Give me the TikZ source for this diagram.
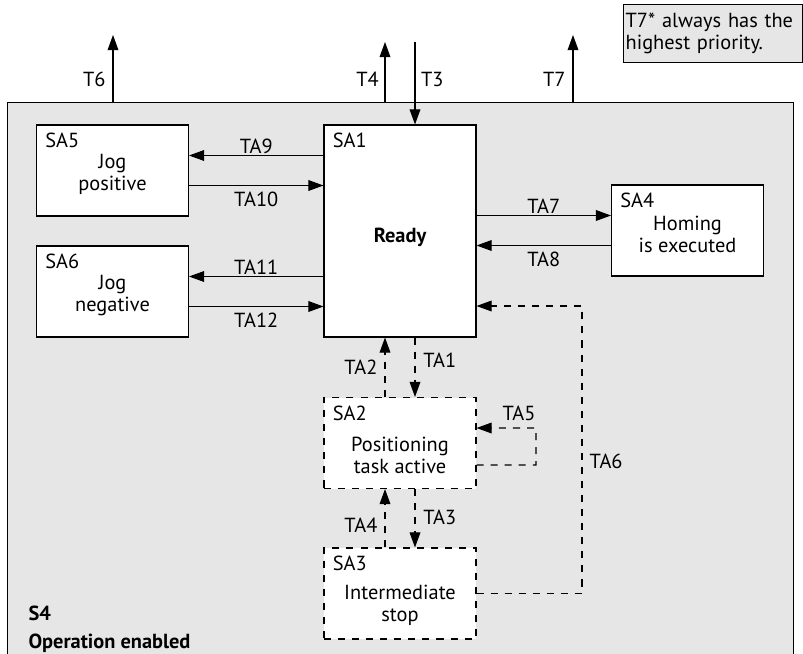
\documentclass[tikz,border=0pt]{standalone}
\usepackage{fontspec}
\setmainfont{PT Sans}
\usetikzlibrary{arrows.meta,positioning,calc}
\definecolor{panelgray}{RGB}{230,230,230}
\newcommand{\fsz}{\fontsize{14.5}{15.6}\selectfont}

\begin{document}
\begin{tikzpicture}[font=\fsz, line width=0.75pt, >={Triangle[length=3.8mm,width=2.7mm]},
  stbox/.style={draw, fill=white, minimum width=3.8cm, minimum height=2.275cm, inner sep=0pt},
  dline/.style={dash pattern=on 5pt off 5pt},
  dashbox/.style={stbox, dline},
  salbl/.style={anchor=north west, inner sep=0pt, xshift=0.22cm, yshift=-0.2cm},
  tlbl/.style={inner sep=1pt}]
\clip (0,0) rectangle (20.075,16.325);
\node[draw, fill=panelgray, anchor=north west, minimum width=19.65cm, minimum height=15cm] (s4) at (0.175,13.775) {};
\node[draw, fill=panelgray, anchor=north west, align=left, inner sep=1.5pt, text width=4.36cm, minimum height=1.45cm] (note) at (15.575,16.225) {T7* always has the\\highest priority.};
\foreach \n/\x/\y/\id/\txt/\dy/\sty in {
    sa5/2.8125/12.0625/SA5/{Jog\\positive}/-0.09/stbox,
    sa6/2.8125/9.0375/SA6/{Jog\\negative}/-0.09/stbox,
    sa4/17.1875/10.5625/SA4/{Homing\\is executed}/-0.1/stbox,
    sa2/10/5.25/SA2/{Positioning\\task active}/-0.32/dashbox,
    sa3/10/1.4875/SA3/{Intermediate\\stop}/-0.29/dashbox}{
  \node[\sty, label={[salbl]north west:\id}, label={[align=center, yshift=\dy cm]center:\txt}] (\n) at (\x,\y) {};
}
\node[stbox, minimum height=5.3cm, label={[salbl]north west:SA1}, label={[font=\fsz\bfseries, yshift=-0.15cm]center:Ready}] (sa1) at (10,10.55) {};
\foreach \a/\up/\dn in {sa5/TA9/TA10, sa6/TA11/TA12}{
  \draw[->] ($(\a.east -| sa1.west)+(0,0.375)$) -- node[above, tlbl] {\up} ($(\a.east)+(0,0.375)$);
  \draw[->] ($(\a.east)+(0,-0.375)$) -- node[below=3.5pt, tlbl] {\dn} ($(\a.east -| sa1.west)+(0,-0.375)$);
}
\draw[->] ($(sa4.west -| sa1.east)+(0,0.375)$) -- node[above, tlbl] {TA7} ($(sa4.west)+(0,0.375)$);
\draw[->] ($(sa4.west)+(0,-0.375)$) -- node[below=3.5pt, tlbl] {TA8} ($(sa4.west -| sa1.east)+(0,-0.375)$);
\draw[->, dline] ($(sa1.south)+(0.375,0)$) -- node[pos=0.38, right=4.5pt, tlbl] {TA1} ($(sa2.north)+(0.375,0)$);
\draw[->, dline] ($(sa2.north)+(-0.375,0)$) -- node[left=4pt, tlbl] {TA2} ($(sa1.south)+(-0.375,0)$);
\draw[->, dline] ($(sa2.south)+(0.375,0)$) -- node[pos=0.48, right=4.5pt, tlbl] {TA3} ($(sa3.north)+(0.375,0)$);
\draw[->, dline] ($(sa3.north)+(-0.375,0)$) -- node[pos=0.38, left=4pt, tlbl] {TA4} ($(sa2.south)+(-0.375,0)$);
\coordinate (lp) at (13.4,5.625);
\draw[->, dline] ($(sa2.east)+(0,-0.55)$) -| (lp) node[anchor=south east, inner sep=0pt, yshift=0.18cm] {TA5} -- ($(sa2.east)+(0,0.375)$);
\coordinate (rt) at (14.55,8.675);
\draw[->, dline] (sa3.east) -| node[pos=0.73, right=4pt, tlbl] {TA6} (rt) -- (rt -| sa1.east);
\coordinate (t6) at (2.825,15.45);
\coordinate (t7) at (14.325,15.45);
\coordinate (t4) at (9.625,15.275);
\coordinate (t3) at (10.375,15.275);
\draw[->] (t6 |- s4.north) -- node[pos=0.34, left=4pt, tlbl] {T6} (t6);
\draw[->] (t7 |- s4.north) -- node[pos=0.34, left=4pt, tlbl] {T7} (t7);
\draw[->] (t4 |- s4.north) -- node[pos=0.38, left=3pt, tlbl] {T4} (t4);
\draw[->] (t3) -- node[pos=0.45, right=3pt, tlbl] {T3} (t3 |- sa1.north);
\node[anchor=west, font=\fsz\bfseries, inner sep=0pt] (s4id) at (0.7,1.0) {S4};
\node[anchor=west, font=\fsz\bfseries, inner sep=0pt] (s4name) at (0.7,0.25) {Operation enabled};
\end{tikzpicture}
\end{document}
